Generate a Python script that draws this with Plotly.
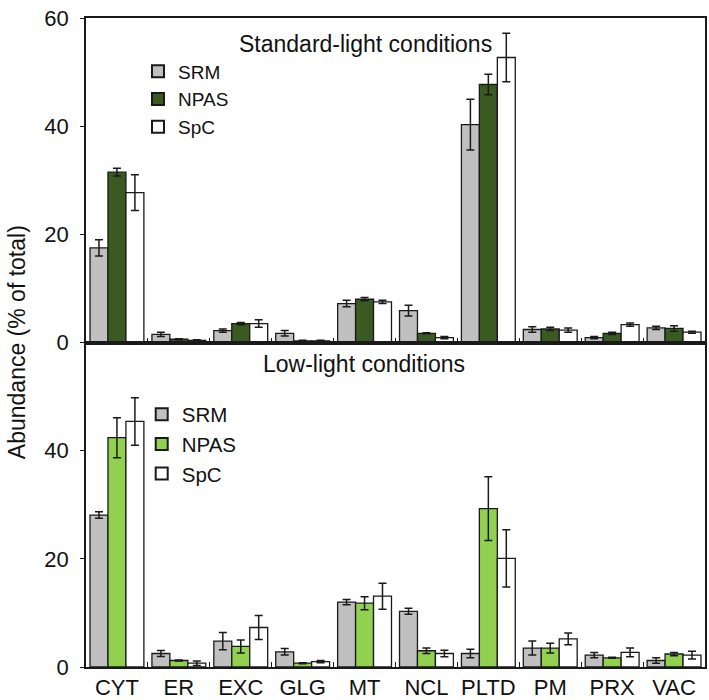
import plotly.graph_objects as go
from plotly.subplots import make_subplots

categories = ["CYT", "ER", "EXC", "GLG", "MT", "NCL", "PLTD", "PM", "PRX", "VAC"]
series_names = ["SRM", "NPAS", "SpC"]

# Standard-light conditions
std_srm = [17.5, 1.5, 2.2, 1.7, 7.2, 5.9, 40.3, 2.4, 0.9, 2.7]
std_srm_err = [1.5, 0.4, 0.3, 0.5, 0.6, 1.0, 4.7, 0.5, 0.2, 0.3]
std_npas = [31.5, 0.6, 3.5, 0.3, 8.0, 1.7, 47.7, 2.5, 1.7, 2.6]
std_npas_err = [0.7, 0.1, 0.2, 0.1, 0.3, 0.1, 1.9, 0.3, 0.2, 0.5]
std_spc = [27.7, 0.4, 3.5, 0.3, 7.5, 0.9, 52.7, 2.3, 3.3, 1.9]
std_spc_err = [3.3, 0.1, 0.7, 0.1, 0.3, 0.2, 4.5, 0.4, 0.3, 0.2]

# Low-light conditions
low_srm = [28.1, 2.5, 4.8, 2.8, 12.0, 10.3, 2.5, 3.5, 2.2, 1.2]
low_srm_err = [0.6, 0.55, 1.6, 0.6, 0.5, 0.55, 0.8, 1.3, 0.5, 0.5]
low_npas = [42.4, 1.2, 3.8, 0.7, 11.8, 3.0, 29.3, 3.5, 1.7, 2.4]
low_npas_err = [3.7, 0.1, 1.2, 0.1, 1.2, 0.5, 5.9, 0.9, 0.1, 0.3]
low_spc = [45.4, 0.7, 7.3, 1.0, 13.1, 2.5, 20.1, 5.2, 2.7, 2.2]
low_spc_err = [4.4, 0.4, 2.2, 0.2, 2.4, 0.6, 5.3, 1.1, 0.8, 0.7]

y_ticks_top = [0, 20, 40, 60]
y_ticks_bottom = [0, 20, 40]

FONT = "Liberation Sans, Arial, sans-serif"
GRAY = "#c0c0c0"
DARK_GREEN = "#3a5a22"
LIGHT_GREEN = "#92d050"
WHITE = "#ffffff"
LINE = "#1a1a1a"

fig = make_subplots(rows=2, cols=1, vertical_spacing=0.0)

def add_bars(vals, errs, name, color, row, legend):
    fig.add_trace(go.Bar(
        x=categories, y=vals, name=name,
        marker=dict(color=color, line=dict(color=LINE, width=1.3)),
        error_y=dict(type="data", array=errs, visible=True, color=LINE,
                     thickness=1.5, width=4),
        legend=legend,
    ), row=row, col=1)

add_bars(std_srm, std_srm_err, series_names[0], GRAY, 1, "legend")
add_bars(std_npas, std_npas_err, series_names[1], DARK_GREEN, 1, "legend")
add_bars(std_spc, std_spc_err, series_names[2], WHITE, 1, "legend")
add_bars(low_srm, low_srm_err, series_names[0], GRAY, 2, "legend2")
add_bars(low_npas, low_npas_err, series_names[1], LIGHT_GREEN, 2, "legend2")
add_bars(low_spc, low_spc_err, series_names[2], WHITE, 2, "legend2")

axis_common = dict(showline=True, linecolor=LINE, linewidth=1.5, mirror=True,
                   showgrid=False, zeroline=False, automargin=False)

fig.update_xaxes(**axis_common, ticks="inside", tickson="boundaries",
                 ticklen=5, tickcolor=LINE, tickwidth=1, tickangle=0,
                 tickfont=dict(family=FONT, size=22, color="#111"))
fig.update_xaxes(showticklabels=False, row=1, col=1)
fig.update_yaxes(**axis_common, ticks="outside", ticklen=4, tickcolor=LINE,
                 tickwidth=1.2, range=[0, 60],
                 tickfont=dict(family=FONT, size=22, color="#111"),
                 ticklabelstandoff=7)
fig.update_yaxes(tickvals=y_ticks_top, row=1, col=1)
fig.update_yaxes(tickvals=y_ticks_bottom, row=2, col=1)

legend_common = dict(bgcolor="rgba(0,0,0,0)", xanchor="left", yanchor="top",
                     tracegroupgap=0, itemsizing="constant")

fig.update_layout(
    width=709, height=700,
    margin=dict(l=86, r=4, t=18, b=33),
    paper_bgcolor="white", plot_bgcolor="white",
    barmode="group", bargap=0.13, bargroupgap=0.0,
    legend=dict(**legend_common, x=0.084, y=0.947,
                font=dict(family=FONT, size=19, color="#111")),
    legend2=dict(**legend_common, x=0.09, y=0.42,
                 font=dict(family=FONT, size=20.5, color="#111")),
    annotations=[
        dict(text="Standard-light conditions", x=0.452, y=0.96,
             xref="paper", yref="paper", xanchor="center", yanchor="middle",
             showarrow=False, font=dict(family=FONT, size=23, color="#111")),
        dict(text="Low-light conditions", x=0.449, y=0.467,
             xref="paper", yref="paper", xanchor="center", yanchor="middle",
             showarrow=False, font=dict(family=FONT, size=23, color="#111")),
        dict(text="Abundance (% of total)", x=-0.112, y=0.5,
             xref="paper", yref="paper", xanchor="center", yanchor="middle",
             textangle=-90, showarrow=False,
             font=dict(family=FONT, size=23, color="#111")),
    ],
)

fig.write_html("out.html", config={"displayModeBar": False},
               post_script="document.body.style.margin='0';document.body.style.padding='0';")
